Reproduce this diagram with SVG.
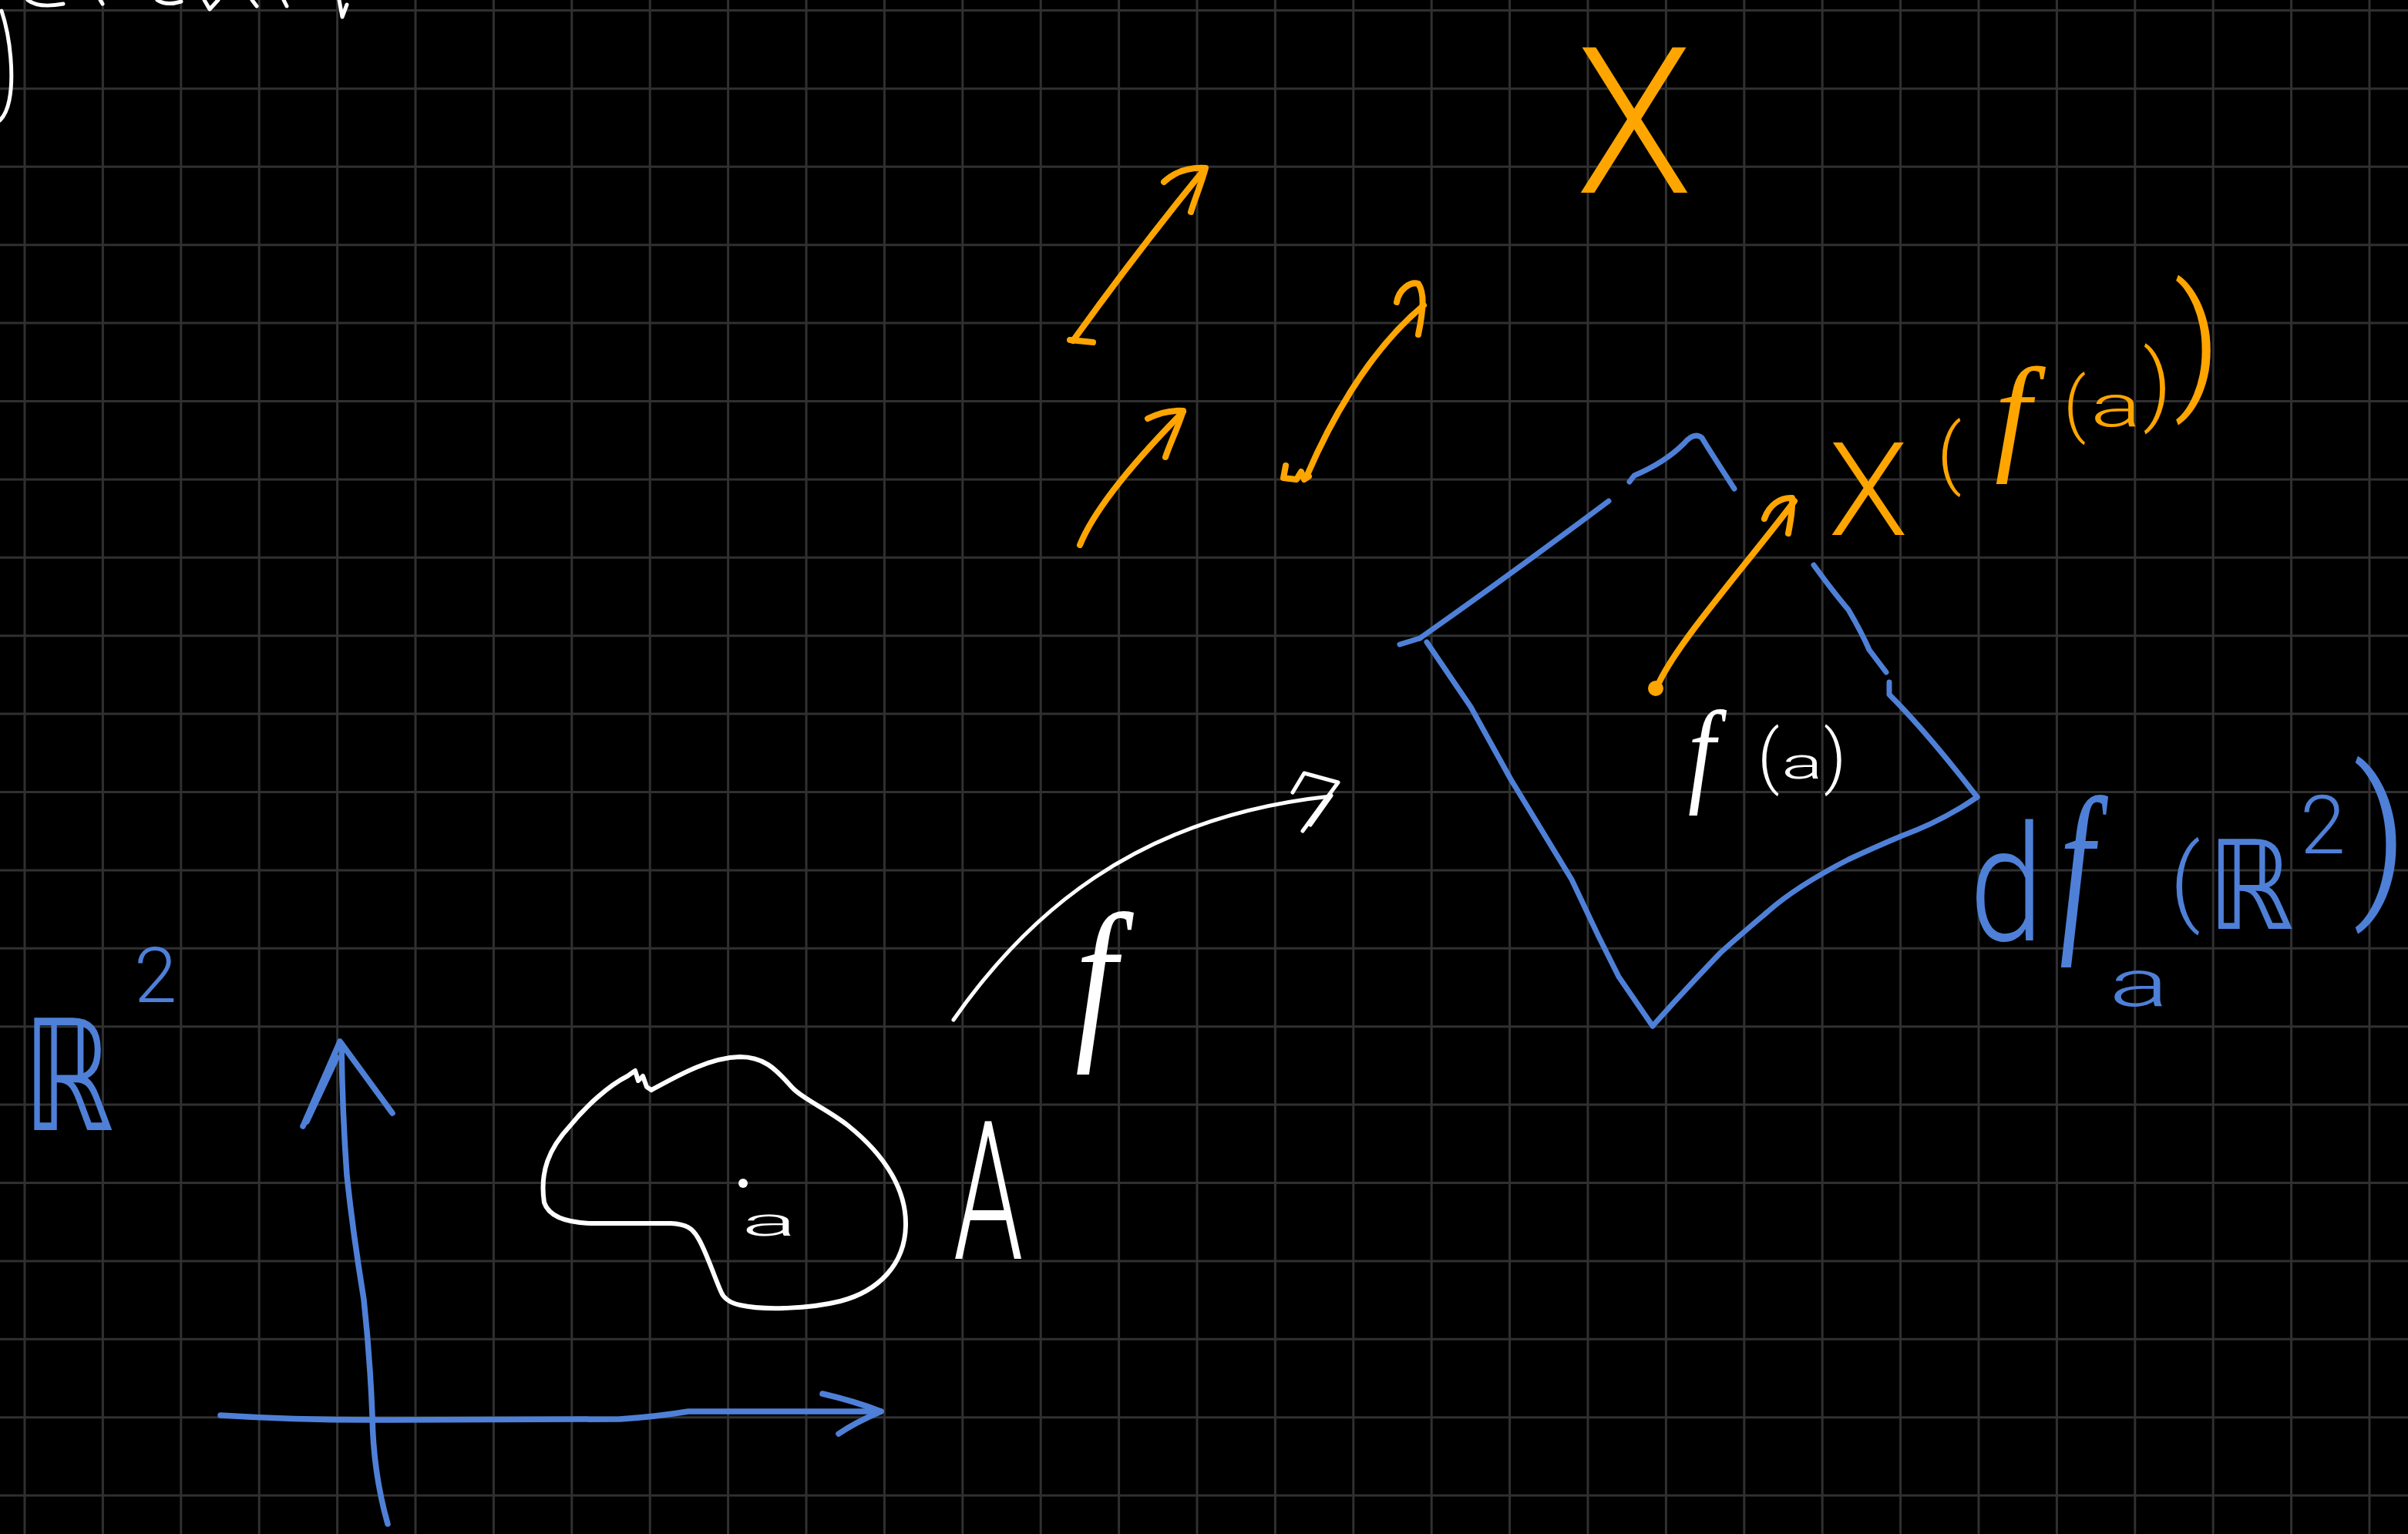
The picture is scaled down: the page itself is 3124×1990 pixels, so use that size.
<svg xmlns="http://www.w3.org/2000/svg" width="3124" height="1990" viewBox="0 0 3124 1990">
<style>
.grid{stroke:#303030;stroke-width:3;fill:none}
.s{fill:none;stroke-linecap:round;stroke-linejoin:round}
.w{stroke:#ffffff}
.o{stroke:#ffa500}
.b{stroke:#4f80d8}
.t{font-family:Roboto,"DejaVu Sans",sans-serif;font-weight:300}
.it{font-family:"Liberation Serif",serif;font-style:italic;font-weight:400}
.r{font-family:"DejaVu Sans",sans-serif;font-weight:400}
.tw{fill:#ffffff}
.to{fill:#ffa500}
.tb{fill:#4f80d8}
</style>
<rect width="3124" height="1990" fill="#000000"/>
<g id="grid">
<path class="grid" d="M32 0V1990M133.4 0V1990M234.8 0V1990M336.2 0V1990M437.6 0V1990M539 0V1990M640.4 0V1990M741.8 0V1990M843.2 0V1990M944.6 0V1990M1046 0V1990M1147.4 0V1990M1248.8 0V1990M1350.2 0V1990M1451.6 0V1990M1553 0V1990M1654.4 0V1990M1755.8 0V1990M1857.2 0V1990M1958.6 0V1990M2060 0V1990M2161.4 0V1990M2262.8 0V1990M2364.2 0V1990M2465.6 0V1990M2567 0V1990M2668.4 0V1990M2769.8 0V1990M2871.2 0V1990M2972.6 0V1990M3074 0V1990"/>
<path class="grid" d="M0 13.5H3124M0 114.9H3124M0 216.3H3124M0 317.7H3124M0 419.1H3124M0 520.5H3124M0 621.9H3124M0 723.3H3124M0 824.7H3124M0 926.1H3124M0 1027.5H3124M0 1128.9H3124M0 1230.3H3124M0 1331.7H3124M0 1433.1H3124M0 1534.5H3124M0 1635.9H3124M0 1737.3H3124M0 1838.7H3124M0 1940.1H3124"/>
</g>
<g id="top-fragments" class="s w" stroke-width="5">
<path d="M2,14 C14,50 18,100 12,130 C9,145 4,152 0,156"/>
<path d="M36,0 Q50,11 82,5"/>
<path d="M130,0 L133,5"/>
<path d="M204,0 Q215,8 235,2"/>
<path d="M265,0 L272,12 L283,0"/>
<path d="M327,0 L333,8"/>
<path d="M368,0 L372,8"/>
<path d="M440,0 L444,22 L450,6"/>
</g>
<g id="axes" class="s b" stroke-width="7.5">
<path d="M503,1977 Q484,1910 483,1836 Q480,1760 472,1686 Q458,1600 450,1525 Q444,1440 443,1354"/>
<path d="M393,1461 L441,1351 L509,1444"/>
<path d="M398,1455 L437,1372"/>
<path d="M286,1836 Q380,1842 482,1842 L804,1841 Q850,1838 893,1831 L1143,1831"/>
<path d="M1067,1808 Q1110,1818 1143,1831 Q1110,1845 1088,1860"/>
</g>
<g id="label-R2">
<text class="r tb" x="30" y="1466" font-size="200" textLength="118" lengthAdjust="spacingAndGlyphs">ℝ</text>
<text class="t tb" x="174" y="1300" font-size="100">2</text>
</g>
<g id="region-A">
<path class="s w" stroke-width="6" d="M845,1414 C880,1395 920,1372 960,1371 C990,1371 1005,1385 1027,1410 C1040,1425 1075,1440 1100,1460 C1150,1500 1176,1545 1175,1590 C1174,1640 1140,1675 1090,1688 C1050,1698 990,1700 960,1693 C945,1690 938,1682 936,1677 C928,1660 915,1620 905,1605 C898,1593 890,1588 870,1587 L767,1587 C735,1586 712,1578 706,1560 C700,1520 712,1490 740,1460 C760,1435 790,1408 814,1396 L824,1389 L828,1402 L834,1396 L839,1410 L845,1414"/>
<circle cx="964" cy="1535" r="6" fill="#ffffff"/>
<text class="t tw" x="962" y="1603" font-size="52" textLength="72" lengthAdjust="spacingAndGlyphs">a</text>
<text class="t tw" x="1237" y="1633" font-size="250" textLength="90" lengthAdjust="spacingAndGlyphs">A</text>
</g>
<g id="connectors">
<g id="map-f" class="s w" stroke-width="5">
<path d="M1237,1323 C1330,1190 1470,1060 1726,1033"/>
<path d="M1677,1028 L1692,1003 L1736,1015 L1690,1078"/>
<path d="M1727,1032 L1700,1070"/>
</g>
<g id="field-vectors" class="s o" stroke-width="8">
<path d="M1392,442 Q1480,320 1563,219"/>
<path d="M1388,441 L1418,444"/>
<path d="M1510,236 C1525,222 1545,217 1564,218 C1558,240 1550,258 1545,275"/>
<path d="M1401,707 C1420,660 1470,600 1535,534"/>
<path d="M1489,543 C1505,535 1520,532 1535,533 C1528,555 1518,575 1512,593"/>
<path d="M1696,616 C1720,560 1770,460 1847,396"/>
<path d="M1668,604 L1665,620 L1682,622 L1688,612 L1692,622 L1698,618"/>
<path d="M1812,392 C1815,375 1830,365 1840,368 C1848,380 1847,400 1840,434"/>
<path d="M2149,893 C2170,840 2260,740 2328,650"/>
<path d="M2289,673 C2295,655 2310,645 2325,646 C2326,665 2322,680 2320,692"/>
<circle cx="2148" cy="893" r="6" fill="#ffa500"/>
</g>
</g>
<g id="tangent-plane" class="s b" stroke-width="7">
<path d="M1816,836 L1842,828"/>
<path d="M1842,828 Q1960,745 2087,650"/>
<path d="M2114,625 L2120,617 Q2160,600 2185,575 Q2198,560 2208,568 Q2215,580 2250,634"/>
<path d="M2353,733 Q2380,770 2398,791 Q2415,820 2425,843 L2447,872"/>
<path d="M2451,885 L2451,901 Q2500,950 2565,1034"/>
<path d="M2565,1034 Q2520,1065 2468,1084 Q2430,1100 2398,1115 Q2330,1150 2293,1183 Q2255,1215 2232,1236 Q2185,1285 2144,1331"/>
<path d="M2144,1331 L2100,1267 L2074,1215 L2039,1141 L1960,1011 L1908,917 L1851,833"/>
</g>
<g id="label-f">
<text class="it tw" transform="translate(1395,1345) scale(0.84,1)" font-size="230">f</text>
</g>
<g id="label-X">
<text class="t to" x="2044" y="250" font-size="265" textLength="152" lengthAdjust="spacingAndGlyphs">X</text>
</g>
<g id="label-Xfa">
<text class="t to" x="2372" y="694" font-size="169">X</text>
<text class="t to" x="2513" y="622" font-size="100">(</text>
<text class="it to" x="2588" y="592" font-size="168">f</text>
<text class="t to" x="2677" y="556" font-size="92">(</text>
<text class="t to" x="2712" y="553" font-size="76" textLength="66" lengthAdjust="spacingAndGlyphs">a</text>
<text class="t to" x="2780" y="537" font-size="115">)</text>
<text class="t to" x="2820" y="508" font-size="190">)</text>
</g>
<g id="label-fa">
<text class="it tw" transform="translate(2190,1026) scale(0.85,1)" font-size="150">f</text>
<text class="t tw" x="2280" y="1012" font-size="90">(</text>
<text class="t tw" x="2311" y="1010" font-size="57" textLength="54" lengthAdjust="spacingAndGlyphs">a</text>
<text class="t tw" x="2366" y="1012" font-size="90">)</text>
</g>
<g id="label-dfa">
<text class="t tb" x="2555" y="1220" font-size="210" textLength="96" lengthAdjust="spacingAndGlyphs">d</text>
<text class="it tb" transform="translate(2672,1203) scale(0.66,1)" font-size="243">f</text>
<text class="t tb" x="2736" y="1305" font-size="85" textLength="78" lengthAdjust="spacingAndGlyphs">a</text>
<text class="t tb" x="2815" y="1185" font-size="125">(</text>
<text class="r tb" x="2864" y="1205" font-size="160" textLength="112" lengthAdjust="spacingAndGlyphs">ℝ</text>
<text class="t tb" x="2984" y="1107" font-size="106">2</text>
<text class="t tb" x="3052" y="1160" font-size="225">)</text>
</g>
</svg>
